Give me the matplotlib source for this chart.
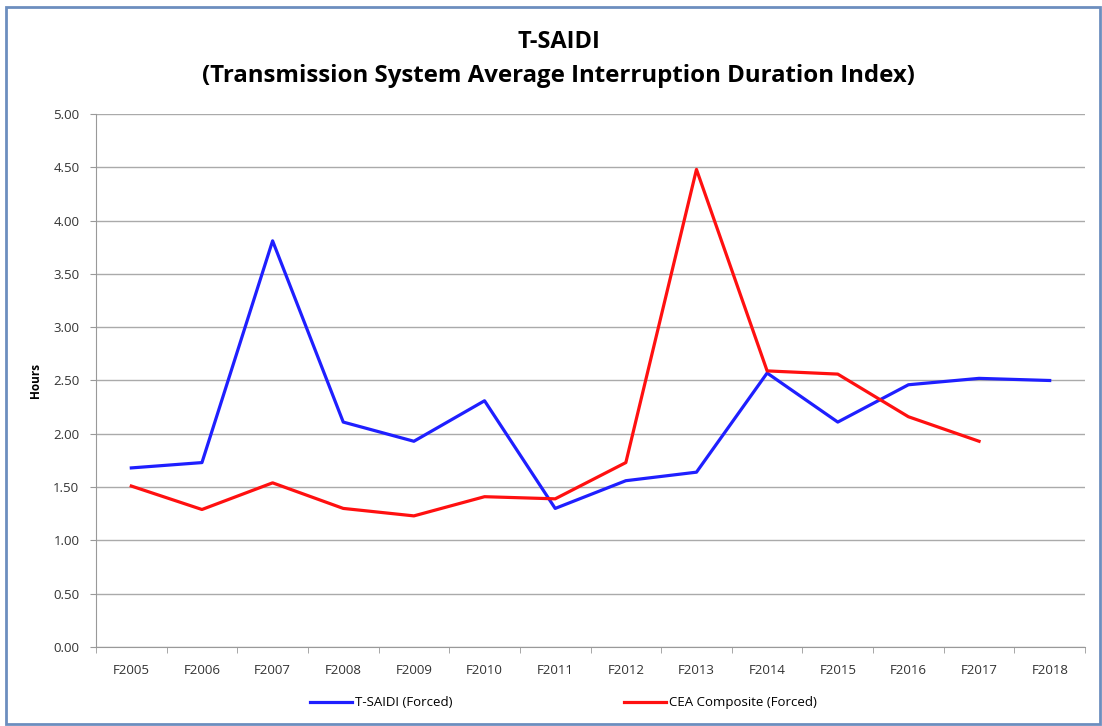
import numpy as np
import matplotlib.pyplot as plt
from matplotlib.patches import Rectangle

years = ['F2005', 'F2006', 'F2007', 'F2008', 'F2009', 'F2010', 'F2011',
         'F2012', 'F2013', 'F2014', 'F2015', 'F2016', 'F2017', 'F2018']
tsaidi = [1.68, 1.73, 3.81, 2.11, 1.93, 2.31, 1.30, 1.56, 1.64, 2.57, 2.11, 2.46, 2.52, 2.50]
cea = [1.51, 1.29, 1.54, 1.30, 1.23, 1.41, 1.39, 1.73, 4.48, 2.59, 2.56, 2.16, 1.93]
yticks = [0.0, 0.5, 1.0, 1.5, 2.0, 2.5, 3.0, 3.5, 4.0, 4.5, 5.0]

plt.rcParams['font.family'] = ['Open Sans', 'DejaVu Sans']

fig = plt.figure(figsize=(11.02, 7.26), dpi=100)
ax = fig.add_axes([0.0871, 0.1088, 0.8975, 0.7342])

x = np.arange(len(years))
ax.plot(x, tsaidi, color='#1f1fff', lw=2.3, label='T-SAIDI (Forced)')
ax.plot(x[:len(cea)], cea, color='#ff1010', lw=2.3, label='CEA Composite (Forced)')

ax.set_xlim(-0.5, len(years) - 0.5)
ax.set_ylim(0, 5)
ax.set_yticks(yticks)
ax.set_yticklabels(['%.2f' % v for v in yticks], fontsize=9.5, color='#333333')
ax.set_xticks(x)
ax.set_xticklabels(years, fontsize=9.5, color='#333333')
ax.tick_params(axis='x', length=0, pad=12)
ax.set_xticks(np.arange(-0.5, len(years), 1), minor=True)
ax.tick_params(axis='x', which='minor', length=4, color='#999999')
ax.tick_params(axis='y', length=4, color='#999999', pad=8)
ax.grid(axis='y', color='#aaaaaa', lw=1)
ax.set_axisbelow(True)
for s in ['top', 'right']:
    ax.spines[s].set_visible(False)
ax.spines['left'].set_color('#999999')
ax.spines['bottom'].set_color('#999999')

ax.set_ylabel('Hours', fontsize=8.5, fontweight='bold', labelpad=8)

fig.text(0.507, 0.942, 'T-SAIDI', ha='center', va='center', fontsize=17, fontweight='bold')
fig.text(0.507, 0.896, '(Transmission System Average Interruption Duration Index)',
         ha='center', va='center', fontsize=17.3, fontweight='bold')

fig.legend(loc='center', bbox_to_anchor=(0.511, 0.032), ncol=2, frameon=False,
           fontsize=9.5, handlelength=3.2, columnspacing=13, handletextpad=0.2)

fig.patches.append(Rectangle((0.005, 0.003), 0.993, 0.988, transform=fig.transFigure,
                             fill=False, edgecolor='#6c8ebf', lw=2))

fig.savefig('out.png', dpi=100)
